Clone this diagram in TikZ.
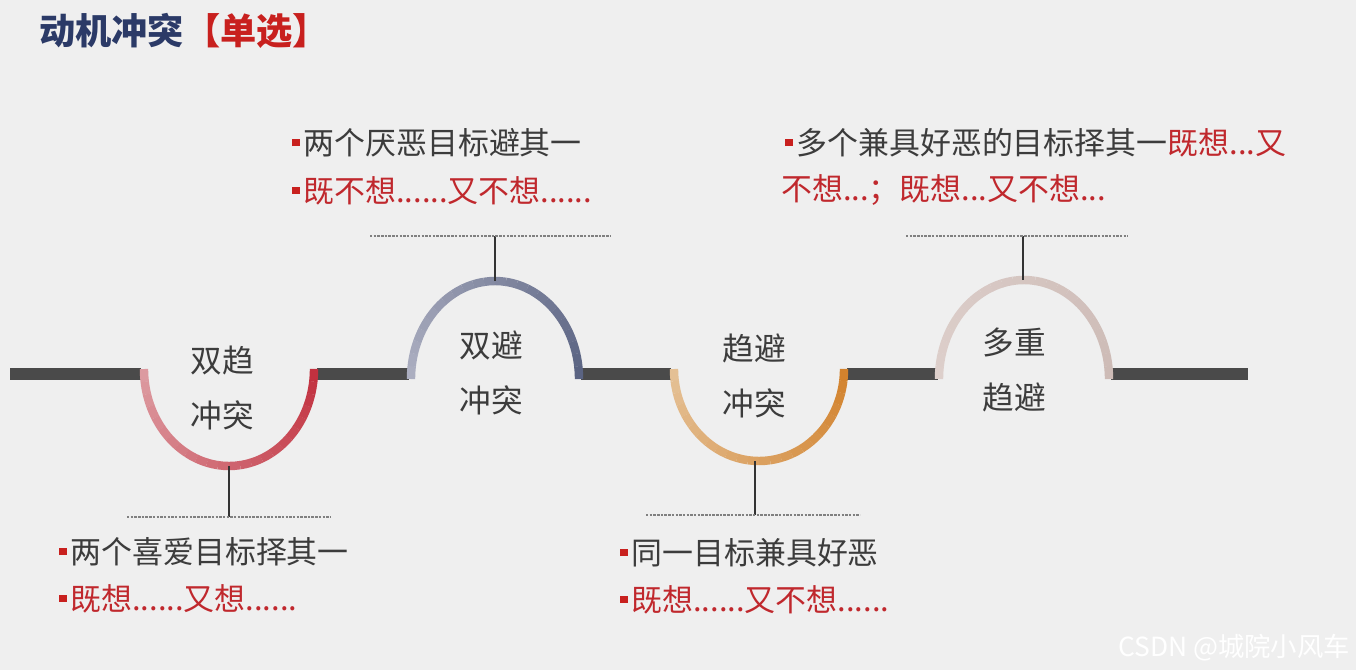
\documentclass[tikz,border=0pt]{standalone}
\usepackage{fontspec}
\usepackage{xcolor}
\usepackage{tikz}
\usetikzlibrary{positioning}
\newfontfamily\cjk{Noto Sans CJK SC}
\definecolor{bgc}{HTML}{EFEFEF}
\definecolor{trackgray}{HTML}{4A4A4A}
\definecolor{stemgray}{HTML}{333333}
\definecolor{txtgray}{HTML}{3C3C3C}
\definecolor{txtred}{HTML}{C0282D}
\definecolor{bulred}{HTML}{C8201E}
\definecolor{navy}{HTML}{2B3A67}
\definecolor{arcAl}{HTML}{DC9AA0}
\definecolor{arcAr}{HTML}{C2313F}
\definecolor{arcBl}{HTML}{ABAEC0}
\definecolor{arcBr}{HTML}{5A6382}
\definecolor{arcCl}{HTML}{E4C095}
\definecolor{arcCr}{HTML}{D2822D}
\definecolor{arcDl}{HTML}{DDCFCB}
\definecolor{arcDr}{HTML}{CDBBB6}
\newcommand\sqbul{{\color{bulred}\rule[0.28em]{0.24em}{0.24em}}\hspace{0.12em}}

\tikzset{
  txt/.style={font=\cjk\fontsize{17.6}{20}\selectfont, text=txtgray, inner sep=0pt, anchor=west},
  redtxt/.style={txt, text=txtred},
  lbl/.style={font=\cjk\fontsize{18}{31}\selectfont, text=txtgray, inner sep=0pt, align=center},
  track/.style={line width=6.3pt, draw=trackgray},
  arcseg/.style={line width=4.8pt},
  stem/.style={line width=1.2pt, draw=stemgray},
  dotbar/.style={line width=1.4pt, draw=gray, dash pattern=on 1.4pt off 0.7pt},
}

\begin{document}
\begin{tikzpicture}[x=0.02cm,y=0.02cm]
\fill[bgc] (0,0) rectangle (1356,-670);
\useasboundingbox (0,0) rectangle (1356,-670);

% title
\node[anchor=west, inner sep=0pt, font=\cjk\fontsize{20.6}{24}\selectfont\bfseries] (title) at (39,-31)
  {\textcolor{navy}{动机冲突}\textcolor{bulred}{【单选】}};

% main track
\draw[track] (10,-374) -- (141,-374);
\draw[track] (317,-374) -- (409,-374);
\draw[track] (581,-374) -- (671,-374);
\draw[track] (847,-374) -- (938,-374);
\draw[track] (1111,-374) -- (1248,-374);

% the four arcs, shaded left to right
\foreach \cx/\cy/\dir/\rx/\ry/\colL/\colR in {
    229/-369/1/85/97/arcAl/arcAr,
    495/-379/-1/84/98/arcBl/arcBr,
    759/-369/1/85/92/arcCl/arcCr,
    1024/-379/-1/85/99/arcDl/arcDr}{
  \foreach \i in {0,...,23}{
    \pgfmathsetmacro\a{180+(\dir)*7.5*\i}
    \pgfmathtruncatemacro\p{100*\i/23}
    \draw[arcseg, draw=\colR!\p!\colL]
      ([shift={({\a}:{\rx} and {\ry})}]\cx,\cy) arc[start angle=\a, delta angle=(\dir)*7.6, x radius=\rx, y radius=\ry];
  }
}

% arc labels
\node[lbl] (lblA) at (222,-388) {双趋\\冲突};
\node[lbl] (lblB) at (491,-373) {双避\\冲突};
\node[lbl] (lblC) at (754,-376) {趋避\\冲突};
\node[lbl] (lblD) at (1014,-370) {多重\\趋避};

% stems and dotted bars
\coordinate (tipA) at (229,-466);  \coordinate (barA) at (229,-517);
\coordinate (tipB) at (495,-281);  \coordinate (barB) at (495,-236);
\coordinate (tipC) at (755,-461);  \coordinate (barC) at (755,-515);
\coordinate (tipD) at (1023,-280); \coordinate (barD) at (1023,-236);
\draw[stem] (tipA) -- (barA);
\draw[stem] (tipB) -- (barB);
\draw[stem] (tipC) -- (barC);
\draw[stem] (tipD) -- (barD);
\draw[dotbar] (127,-517) -- (330,-517);
\draw[dotbar] (370,-236) -- (611,-236);
\draw[dotbar] (646,-515) -- (860,-515);
\draw[dotbar] (906,-236) -- (1128,-236);

% texts
\node[txt] (hateA) at (292,-143) {\sqbul 两个厌恶目标避其一};
\node[redtxt] (hateB) at (292,-191) {\sqbul 既不想......又不想......};
\node[txt] (multiA) at (785,-143) {\sqbul 多个兼具好恶的目标择其一\textcolor{txtred}{既想...又}};
\node[redtxt] (multiB) at (781,-190) {不想...；既想...又不想...};
\node[txt] (loveA) at (59,-552) {\sqbul 两个喜爱目标择其一};
\node[redtxt] (loveB) at (59,-599) {\sqbul 既想......又想......};
\node[txt] (mixA) at (620,-553) {\sqbul 同一目标兼具好恶};
\node[redtxt] (mixB) at (620,-600) {\sqbul 既想......又不想......};

\node[anchor=west, inner sep=0pt, text=white, font=\cjk\fontsize{15}{18}\selectfont] (mark) at (1118,-648) {CSDN @城院小风车};
\end{tikzpicture}
\end{document}
